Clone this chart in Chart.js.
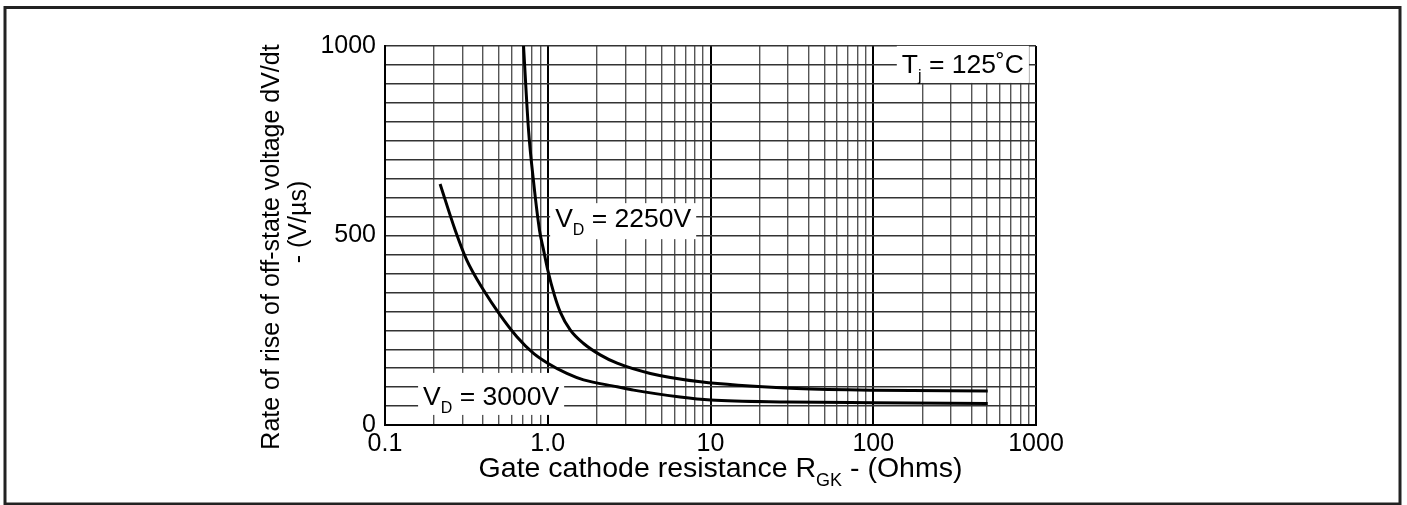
<!DOCTYPE html>
<html>
<head>
<meta charset="utf-8">
<script src="https://cdn.jsdelivr.net/npm/chart.js@4.4.1/dist/chart.umd.min.js"></script>
<style>
  html, body { margin: 0; padding: 0; background: #fff; }
  #wrap { width: 1407px; height: 505px; }
</style>
</head>
<body>
<div id="wrap"><canvas id="dvdtChart" width="1407" height="505"></canvas></div>
<script>
// dV/dt against gate cathode resistance, Tj = 125C

// grid / tick values
const xDecades = [0.1, 1, 10, 100];
const xMantissas = [1, 2, 3, 4, 5, 6, 7, 8, 9];
const xLabelValues = [0.1, 1, 10, 100, 1000];
const xLabelText = ['0.1', '1.0', '10', '100', '1000'];
const yLabelValues = [0, 500, 1000];

// VD = 2250V curve
const rgkVd2250 = [0.71, 0.762, 0.82, 0.89, 0.942, 1.0, 1.1, 1.194, 1.374, 1.66, 2.10, 2.67, 4.27, 8.67, 31, 100, 505];
const dvdtVd2250 = [1000, 778, 638, 514, 462, 409, 342, 298, 251, 215, 185, 163, 136, 114, 97, 92, 90];

// VD = 3000V curve
const rgkVd3000 = [0.218, 0.27, 0.318, 0.403, 0.51, 0.646, 0.818, 1.0, 1.31, 1.66, 2.67, 3.37, 6.5, 10, 30, 100, 505];
const dvdtVd3000 = [636, 514, 435, 356, 290, 233, 189, 163, 136, 119, 101, 92, 74, 66, 61, 59, 57];

const FONT = '"Liberation Sans", Arial, Helvetica, sans-serif';

let xGridValues = [];
xDecades.forEach(d => xMantissas.forEach(m => xGridValues.push(+(d * m).toPrecision(3))));
xGridValues.push(1000);

function isDecade(v) {
    const l = Math.log10(v);
    return Math.abs(l - Math.round(l)) < 1e-6;
}

function toPoints(xs, ys) {
    return xs.map((x, i) => ({ x: x, y: ys[i] }));
}

// draws text with subscript parts, returns width
function drawRich(ctx, parts, x, y, align, size, measureOnly) {
    let total = 0;
    parts.forEach(p => {
        ctx.font = (p.sub ? Math.round(size * 0.62) : size) + 'px ' + FONT;
        total += ctx.measureText(p.t).width;
    });
    if (measureOnly) return total;
    let cx = x;
    if (align === 'center') cx = x - total / 2;
    else if (align === 'right') cx = x - total;
    ctx.textAlign = 'left';
    ctx.textBaseline = 'alphabetic';
    parts.forEach(p => {
        ctx.font = (p.sub ? Math.round(size * 0.62) : size) + 'px ' + FONT;
        ctx.fillText(p.t, cx, y + (p.sub ? size * 0.3 : 0));
        cx += ctx.measureText(p.t).width;
    });
    return total;
}

const annotations = [
    { parts: [{t: 'V'}, {t: 'D', sub: true}, {t: ' = 2250V'}], x: 1.11, y: 522, align: 'left', boxTop: 24, boxBottom: 12 },
    { parts: [{t: 'V'}, {t: 'D', sub: true}, {t: ' = 3000V'}], x: 0.1714, y: 53, align: 'left', boxTop: 32, boxBottom: 10 },
    { parts: [{t: 'T'}, {t: 'j', sub: true}, {t: ' = 125˚C'}], x: 843, y: 929, align: 'right', boxTop: 27, boxBottom: 10 }
];

const decorPlugin = {
    id: 'decor',
    beforeDatasetsDraw(chart) {
        const ctx = chart.ctx;
        const xs = chart.scales.x, ys = chart.scales.y;
        ctx.save();
        annotations.forEach(a => {
            const px = xs.getPixelForValue(a.x);
            const py = ys.getPixelForValue(a.y);
            const w = drawRich(ctx, a.parts, px, py, a.align, 26.5, true);
            const left = a.align === 'right' ? px - w : px;
            ctx.fillStyle = '#fff';
            ctx.fillRect(left - 5, py - a.boxTop, w + 10, a.boxTop + a.boxBottom);
            ctx.fillStyle = '#000';
            drawRich(ctx, a.parts, px, py, a.align, 26.5);
        });
        ctx.restore();
    },
    afterDraw(chart) {
        const ctx = chart.ctx;
        const area = chart.chartArea;
        ctx.save();
        ctx.fillStyle = '#000';
        // x axis title
        drawRich(ctx, [{t: 'Gate cathode resistance R'}, {t: 'GK', sub: true}, {t: ' - (Ohms)'}],
            (area.left + area.right) / 2 + 10, 477, 'center', 28.5);
        // y axis title, two lines
        ctx.save();
        ctx.translate(279, 247);
        ctx.rotate(-Math.PI / 2);
        ctx.font = '25px ' + FONT;
        ctx.textAlign = 'center';
        ctx.textBaseline = 'alphabetic';
        ctx.fillText('Rate of rise of off-state voltage dV/dt', 0, 0);
        ctx.restore();
        ctx.save();
        ctx.translate(306, 222);
        ctx.rotate(-Math.PI / 2);
        ctx.font = '25px ' + FONT;
        ctx.textAlign = 'center';
        ctx.fillText('- (V/µs)', 0, 0);
        ctx.restore();
        // outer frame
        ctx.strokeStyle = '#222';
        ctx.lineWidth = 3;
        ctx.strokeRect(5, 7.5, 1395, 496.5);
        ctx.restore();
    }
};

const ctx = document.getElementById('dvdtChart').getContext('2d');
const dvdtChart = new Chart(ctx, {
    type: 'line',
    data: {
        datasets: [{
            label: 'VD = 2250V',
            data: toPoints(rgkVd2250, dvdtVd2250),
            borderColor: '#000',
            borderWidth: 3,
            pointRadius: 0,
            cubicInterpolationMode: 'monotone',
            fill: false
        }, {
            label: 'VD = 3000V',
            data: toPoints(rgkVd3000, dvdtVd3000),
            borderColor: '#000',
            borderWidth: 3,
            pointRadius: 0,
            cubicInterpolationMode: 'monotone',
            fill: false
        }]
    },
    options: {
        responsive: false,
        animation: false,
        clip: false,
        layout: { padding: { top: 46, right: 371, bottom: 0, left: 0 } },
        plugins: {
            legend: { display: false },
            tooltip: { enabled: false }
        },
        scales: {
            x: {
                type: 'logarithmic',
                min: 0.1,
                max: 1000,
                afterBuildTicks: scale => {
                    scale.ticks = xGridValues.map(v => ({ value: v, major: isDecade(v) }));
                },
                afterFit: scale => { scale.height = 80; },
                ticks: {
                    autoSkip: false,
                    maxRotation: 0,
                    padding: 4,
                    color: '#000',
                    font: { family: FONT, size: 25 },
                    callback: function(value) {
                        const i = xLabelValues.findIndex(v => Math.abs(v - value) < 1e-9);
                        return i >= 0 ? xLabelText[i] : '';
                    }
                },
                grid: {
                    drawTicks: false,
                    color: c => (c.tick && isDecade(c.tick.value)) ? '#000' : '#555',
                    lineWidth: c => (c.tick && isDecade(c.tick.value)) ? 2 : 1.4
                },
                border: { display: true, color: '#000', width: 2 }
            },
            y: {
                type: 'linear',
                min: 0,
                max: 1000,
                afterFit: scale => { scale.width = 385; },
                ticks: {
                    stepSize: 50,
                    autoSkip: false,
                    padding: 9,
                    color: '#000',
                    font: { family: FONT, size: 25 },
                    callback: v => yLabelValues.includes(v) ? String(v) : ''
                },
                grid: {
                    drawTicks: false,
                    color: '#333',
                    lineWidth: 1.4
                },
                border: { display: true, color: '#000', width: 2 }
            }
        }
    },
    plugins: [decorPlugin]
});
</script>
</body>
</html>
